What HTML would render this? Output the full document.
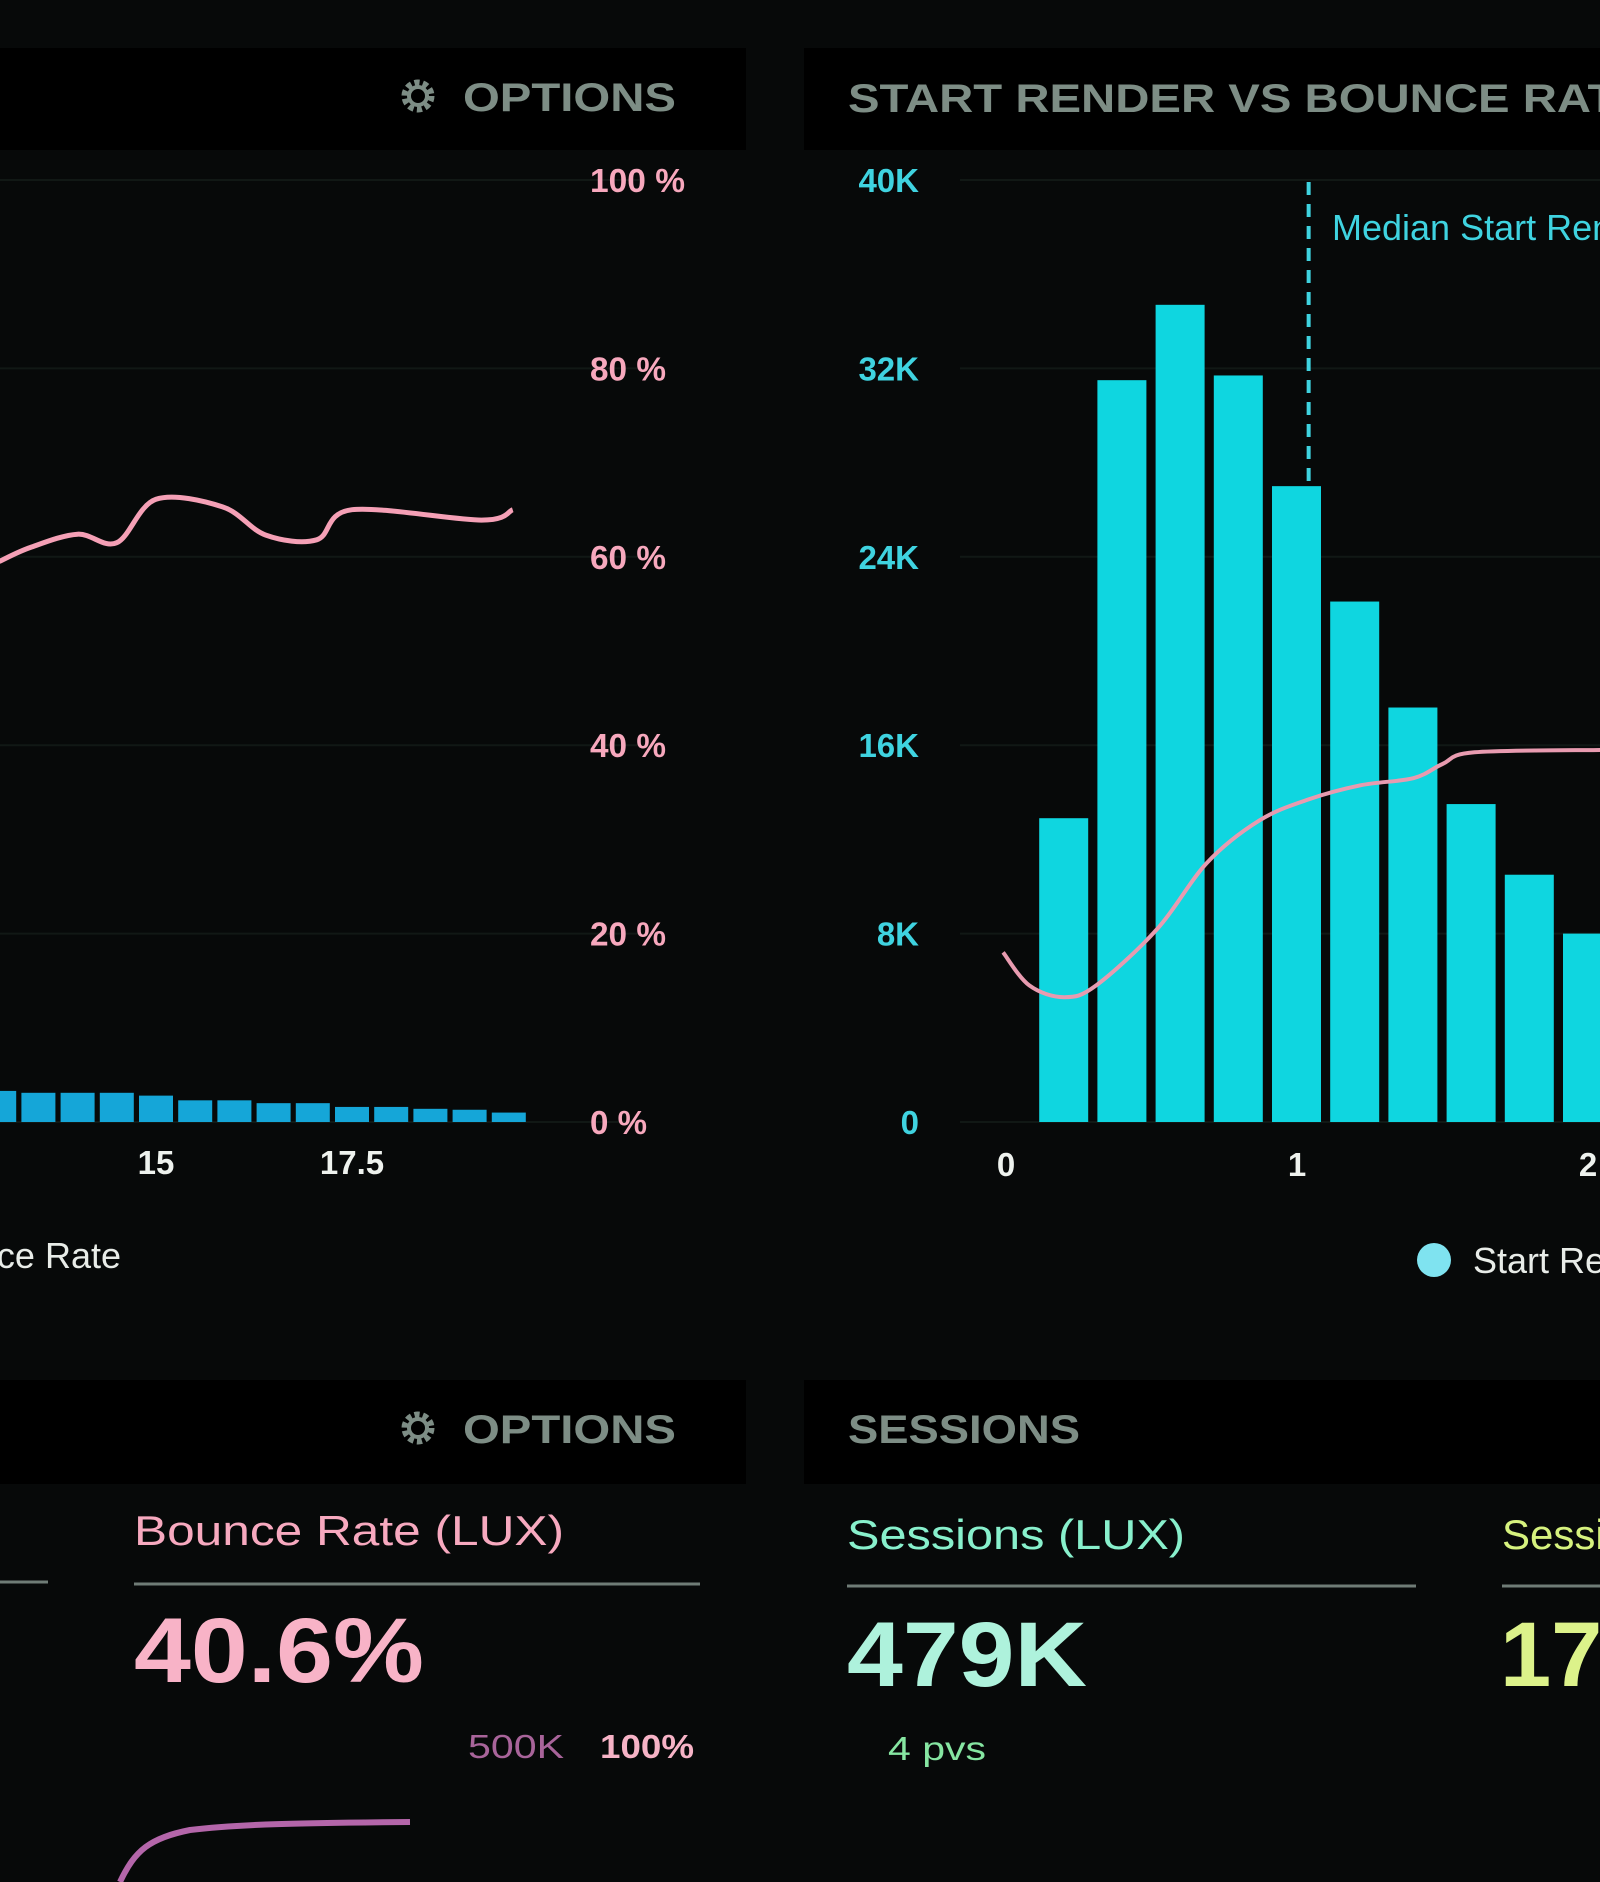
<!DOCTYPE html>
<html><head><meta charset="utf-8"><style>
html,body{margin:0;padding:0;background:#070909;}
svg{display:block;font-family:"Liberation Sans",sans-serif;}
</style></head><body>
<svg id="c" width="1600" height="1882" viewBox="0 0 1600 1882" xmlns="http://www.w3.org/2000/svg">
<rect x="0" y="0" width="1600" height="1882" fill="#070909"/>
<rect x="0" y="48" width="746" height="102" fill="#000"/>
<g>
<circle cx="418" cy="96" r="13" fill="none" stroke="#7d8d85" stroke-width="7" stroke-dasharray="5 3.2"/>
<circle cx="418" cy="96" r="9" fill="none" stroke="#7d8d85" stroke-width="4"/>
<text x="463" y="111" font-size="40" font-weight="bold" fill="#7d8d85" textLength="213" lengthAdjust="spacingAndGlyphs">OPTIONS</text>
</g>
<rect x="804" y="48" width="796" height="102" fill="#000"/>
<text x="848" y="112" font-size="40" font-weight="bold" fill="#7d8d85" textLength="800" lengthAdjust="spacingAndGlyphs">START RENDER VS BOUNCE RATE</text>
<g id="leftChart"></g>
<g id="rightChart"></g>
<rect x="0" y="1380" width="746" height="104" fill="#000"/>
<g>
<circle cx="418" cy="1428" r="13" fill="none" stroke="#7d8d85" stroke-width="7" stroke-dasharray="5 3.2"/>
<circle cx="418" cy="1428" r="9" fill="none" stroke="#7d8d85" stroke-width="4"/>
<text x="463" y="1443" font-size="40" font-weight="bold" fill="#7d8d85" textLength="213" lengthAdjust="spacingAndGlyphs">OPTIONS</text>
</g>
<rect x="804" y="1380" width="796" height="104" fill="#000"/>
<text x="848" y="1443" font-size="40" font-weight="bold" fill="#7d8d85" textLength="232" lengthAdjust="spacingAndGlyphs">SESSIONS</text>
<line x1="0" y1="1582" x2="48" y2="1582" stroke="#6f7c76" stroke-width="3"/>
<text x="134" y="1545" font-size="42" fill="#f7a9bf" textLength="430" lengthAdjust="spacingAndGlyphs">Bounce Rate (LUX)</text>
<line x1="134" y1="1584" x2="700" y2="1584" stroke="#6f7c76" stroke-width="3"/>
<text x="134" y="1682" font-size="92" font-weight="bold" fill="#f8b3c7" textLength="290" lengthAdjust="spacingAndGlyphs">40.6%</text>
<text x="468" y="1758" font-size="33" fill="#a8649a" textLength="96" lengthAdjust="spacingAndGlyphs">500K</text>
<text x="600" y="1758" font-size="33" font-weight="bold" fill="#f6b3c6" textLength="94" lengthAdjust="spacingAndGlyphs">100%</text>
<path d="M120,1882 C135,1850 150,1838 190,1830 C240,1824 300,1823 410,1822" fill="none" stroke="#b466aa" stroke-width="6"/>
<text x="847" y="1549" font-size="42" fill="#88f0cc" textLength="338" lengthAdjust="spacingAndGlyphs">Sessions (LUX)</text>
<line x1="847" y1="1586" x2="1416" y2="1586" stroke="#6f7c76" stroke-width="3"/>
<text x="847" y="1686" font-size="92" font-weight="bold" fill="#aef2dc" textLength="240" lengthAdjust="spacingAndGlyphs">479K</text>
<text x="888" y="1760" font-size="33" fill="#86e6a2" textLength="98" lengthAdjust="spacingAndGlyphs">4 pvs</text>
<text x="1502" y="1549" font-size="42" fill="#d6f27e">Sessions</text>
<line x1="1502" y1="1586" x2="1600" y2="1586" stroke="#6f7c76" stroke-width="3"/>
<text x="1500" y="1686" font-size="92" font-weight="bold" fill="#dcf28a">17K</text>
</svg>
<script>
const leftLineX = [13.0, 13.4, 14.0, 14.5, 15.0, 15.85, 16.4, 17.05, 17.5, 19.15, 19.55];
const leftLineY = [59.5, 61.0, 62.4, 61.5, 66.1, 65.3, 62.3, 61.8, 65.0, 63.9, 65.0];
const leftBarX = [13, 13.5, 14, 14.5, 15, 15.5, 16, 16.5, 17, 17.5, 18, 18.5, 19, 19.5];
const leftBarV = [3.3, 3.1, 3.1, 3.1, 2.8, 2.3, 2.3, 2.0, 2.0, 1.6, 1.6, 1.4, 1.3, 1.0];
const leftYTicks = [0, 20, 40, 60, 80, 100];
const leftYLabels = ["0 %", "20 %", "40 %", "60 %", "80 %", "100 %"];
const leftXTicks = [15, 17.5];
const leftXLabels = ["15", "17.5"];
const rightBarX = [0.2, 0.4, 0.6, 0.8, 1.0, 1.2, 1.4, 1.6, 1.8, 2.0];
const rightBarV = [12.9, 31.5, 34.7, 31.7, 27.0, 22.1, 17.6, 13.5, 10.5, 8.0];
const rightLineX = [-0.01, 0.08, 0.2, 0.31, 0.52, 0.69, 0.87, 1.04, 1.22, 1.40, 1.50, 1.61, 2.05];
const rightLineY = [7.2, 5.8, 5.3, 5.8, 8.2, 11.0, 12.8, 13.7, 14.3, 14.6, 15.2, 15.7, 15.8];
const rightYTicks = [0, 8, 16, 24, 32, 40];
const rightYLabels = ["0", "8K", "16K", "24K", "32K", "40K"];
const rightXTicks = [0, 1, 2];
const rightXLabels = ["0", "1", "2"];
const medianX = [1.04];

const NS = "http://www.w3.org/2000/svg";
function mk(parent, tag, attrs, text) {
  const e = document.createElementNS(NS, tag);
  for (const k in attrs) e.setAttribute(k, attrs[k]);
  if (text !== undefined) e.textContent = text;
  parent.appendChild(e);
  return e;
}
function smooth(pts) {
  let d = 'M' + pts[0][0].toFixed(1) + ',' + pts[0][1].toFixed(1);
  for (let i = 0; i < pts.length - 1; i++) {
    const p0 = pts[i - 1] || pts[i], p1 = pts[i], p2 = pts[i + 1], p3 = pts[i + 2] || p2;
    const c1x = p1[0] + (p2[0] - p0[0]) / 6, c1y = p1[1] + (p2[1] - p0[1]) / 6;
    const c2x = p2[0] - (p3[0] - p1[0]) / 6, c2y = p2[1] - (p3[1] - p1[1]) / 6;
    d += ' C' + c1x.toFixed(1) + ',' + c1y.toFixed(1) + ' ' + c2x.toFixed(1) + ',' + c2y.toFixed(1) + ' ' + p2[0].toFixed(1) + ',' + p2[1].toFixed(1);
  }
  return d;
}
const lx = v => 156 + (v - 15) * 78.4;
const ly = v => 1122 - v * 9.42;
const rx = v => 1006 + v * 291;
const ry = v => 1122 - v * 23.55;

const L = document.getElementById('leftChart');
leftYTicks.forEach((t, i) => {
  const g = mk(L, 'line', {x1: 0, x2: 640, y1: ly(t), y2: ly(t), stroke: '#111815', 'stroke-width': 2});
  
  
  const tx = mk(L, 'text', {x: 590, y: ly(t) + 12, 'font-size': 33, 'font-weight': 'bold', fill: '#f7a8bd', textLength: leftYLabels[i].length * 19, lengthAdjust: 'spacingAndGlyphs'}, leftYLabels[i]);
  
  
});
leftXTicks.forEach((t, i) => {
  const tx = mk(L, 'text', {x: lx(t), y: 1174, 'font-size': 33, 'font-weight': 'bold', fill: '#eef2ee', 'text-anchor': 'middle'}, leftXLabels[i]);
  
  
});
leftBarX.forEach((x, i) => {
  const b = mk(L, 'rect', {x: lx(x) - 17, y: ly(leftBarV[i]), width: 34, height: ly(0) - ly(leftBarV[i]), fill: '#15a6d8'});
  
  
});
{
  const p = mk(L, 'path', {d: smooth(leftLineX.map((x, i) => [lx(x), ly(leftLineY[i])])), fill: 'none', stroke: '#f5a0b6', 'stroke-width': 5, 'stroke-linejoin': 'round'});
  
  
}
{
  const t = mk(L, 'text', {x: 121, y: 1268, 'font-size': 36, fill: '#e8ece8', 'text-anchor': 'end'}, 'Bounce Rate');
  
  
}

const R = document.getElementById('rightChart');
rightYTicks.forEach((t, i) => {
  const g = mk(R, 'line', {x1: 960, x2: 1600, y1: ry(t), y2: ry(t), stroke: '#111815', 'stroke-width': 2});
  
  
  const tx = mk(R, 'text', {x: 919, y: ry(t) + 12, 'font-size': 33, 'font-weight': 'bold', fill: '#3fd3e0', 'text-anchor': 'end'}, rightYLabels[i]);
  
  
});
rightXTicks.forEach((t, i) => {
  const tx = mk(R, 'text', {x: rx(t), y: 1176, 'font-size': 33, 'font-weight': 'bold', fill: '#eef2ee', 'text-anchor': 'middle'}, rightXLabels[i]);
  
  
});
rightBarX.forEach((x, i) => {
  const b = mk(R, 'rect', {x: rx(x) - 25, y: ry(rightBarV[i]), width: 49, height: ry(0) - ry(rightBarV[i]), fill: '#0fd6e0'});
  
  
});
{
  const mx = rx(medianX[0]);
  const ml = mk(R, 'line', {x1: mx, x2: mx, y1: 182, y2: ry(rightBarV[4]), stroke: '#3fd3e0', 'stroke-width': 4, 'stroke-dasharray': '13 9'});
  
  
  const mt = mk(R, 'text', {x: 1332, y: 240, 'font-size': 36, fill: '#3fd3e0'}, 'Median Start Render');
  
  
}
{
  const p = mk(R, 'path', {d: smooth(rightLineX.map((x, i) => [rx(x), ry(rightLineY[i])])), fill: 'none', stroke: '#e89bb0', 'stroke-width': 4, 'stroke-linejoin': 'round'});
  
  
}
{
  const c = mk(R, 'circle', {cx: 1434, cy: 1260, r: 17, fill: '#7fe3f0'});
  
  
  const t = mk(R, 'text', {x: 1473, y: 1273, 'font-size': 36, fill: '#e8ece8'}, 'Start Render');
  
  
}
</script>
</body></html>
